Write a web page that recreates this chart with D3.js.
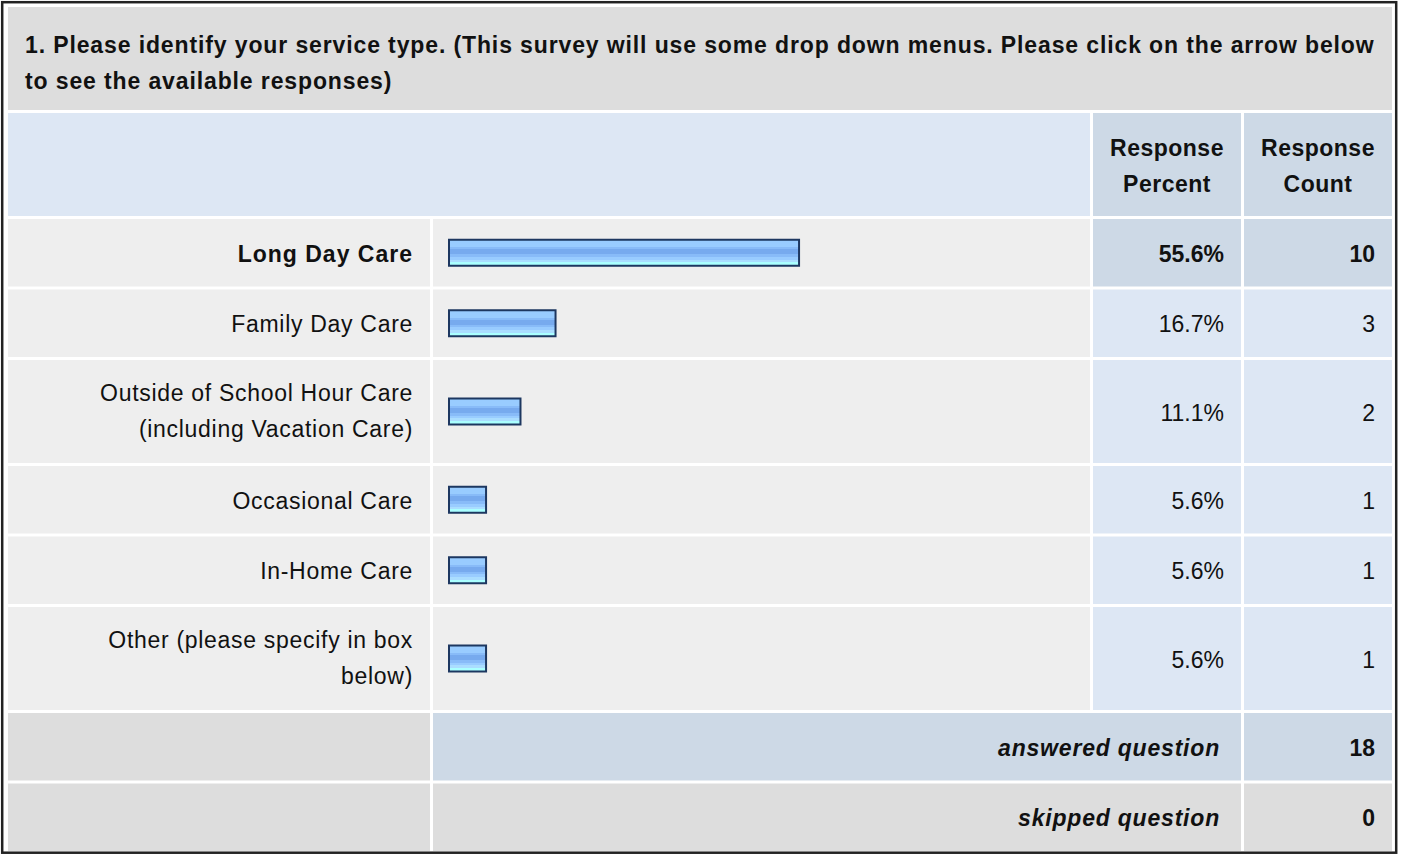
<!DOCTYPE html>
<html>
<head>
<meta charset="utf-8">
<script src="https://cdn.jsdelivr.net/npm/d3@7"></script>
<style>
body { margin: 0; background: #fff; }
svg { display: block; }
text { font-family: "Liberation Sans", Arial, sans-serif; fill: #111; }
</style>
</head>
<body>
<div id="chart"></div>
<script>
// survey data
var questionLines = ["1. Please identify your service type. (This survey will use some drop down menus. Please click on the arrow below",
                     "to see the available responses)"];
var headerPercent = ["Response", "Percent"];
var headerCount = ["Response", "Count"];
var answerLabels = [["Long Day Care"], ["Family Day Care"],
                    ["Outside of School Hour Care", "(including Vacation Care)"],
                    ["Occasional Care"], ["In-Home Care"],
                    ["Other (please specify in box", "below)"]];
var answerPercents = [55.6, 16.7, 11.1, 5.6, 5.6, 5.6];
var answerCounts = [10, 3, 2, 1, 1, 1];
var answeredCount = 18;
var skippedCount = 0;

var width = 1401;
var height = 855;
var gap = 3;
var lineH = 36;
var fontSize = 23;

// column edges
var colLabel = [8, 430], colBar = [433, 1090], colPct = [1093, 1241], colCnt = [1244, 1392];

var svg = d3.select("#chart")
      .append("svg")
      .attr("width", width)
      .attr("height", height);

var defs = svg.append("defs");
var grad = defs.append("linearGradient")
      .attr("id", "barGrad")
      .attr("x1", 0).attr("y1", 0).attr("x2", 0).attr("y2", 1);
[[0, "#99ccff"], [0.28, "#99ccff"], [0.28, "#88bbf8"], [0.36, "#88bbf8"], [0.36, "#77aaee"],
 [0.55, "#77aaee"], [0.55, "#88bbf8"], [0.66, "#88bbf8"], [0.66, "#99ccff"], [0.76, "#99ccff"],
 [0.76, "#aaddff"], [0.86, "#aaddff"], [0.86, "#aaffff"], [1, "#aaffff"]].forEach(function(s) {
  grad.append("stop").attr("offset", s[0]).attr("stop-color", s[1]);
});

// rows, height depends on number of text lines
var rows = [];
rows.push({kind: "title", lines: 2});
rows.push({kind: "header", lines: 2});
answerLabels.forEach(function(l, i) {
  rows.push({kind: "answer", lines: l.length, i: i});
});
rows.push({kind: "answered", lines: 1});
rows.push({kind: "skipped", lines: 1});

var y0 = 7;
rows.forEach(function(r) {
  r.h = 32 + 35.5 * r.lines;
  r.y = y0;
  y0 += r.h + gap;
});

var x = d3.scaleLinear().domain([0, 100]).range([0, 626]);

function cell(x0, x1, r, fill) {
  svg.append("rect")
    .attr("x", x0).attr("y", r.y)
    .attr("width", x1 - x0).attr("height", r.h)
    .attr("fill", fill);
}

function label(lines, xPos, r, anchor, weight, style, ls, shift) {
  var cy = r.y + r.h / 2 + (shift || 0);
  var t = svg.append("text")
    .attr("text-anchor", anchor)
    .style("font-size", fontSize + "px")
    .style("font-weight", weight || "normal")
    .style("font-style", style || "normal")
    .style("letter-spacing", (ls == null ? 1 : ls) + "px");
  var off = lines.length > 1 ? 7 : 9;
  lines.forEach(function(l, k) {
    t.append("tspan")
      .attr("x", xPos)
      .attr("y", cy - (lines.length - 1) * lineH / 2 + k * lineH + off)
      .text(l);
  });
}

rows.forEach(function(r) {
  if (r.kind == "title") {
    cell(colLabel[0], colCnt[1], r, "#dddddd");
    label(questionLines, 25, r, "start", "bold", null, 0.88, 5.5);
  } else if (r.kind == "header") {
    cell(colLabel[0], colBar[1], r, "#dde7f4");
    cell(colPct[0], colPct[1], r, "#cdd9e6");
    cell(colCnt[0], colCnt[1], r, "#cdd9e6");
    label(headerPercent, (colPct[0] + colPct[1]) / 2, r, "middle", "bold", null, 0.5, 2);
    label(headerCount, (colCnt[0] + colCnt[1]) / 2, r, "middle", "bold", null, 0.5, 2);
  } else if (r.kind == "answer") {
    var top = r.i == 0;
    cell(colLabel[0], colLabel[1], r, "#eeeeee");
    cell(colBar[0], colBar[1], r, "#eeeeee");
    cell(colPct[0], colPct[1], r, top ? "#cdd9e6" : "#dde7f4");
    cell(colCnt[0], colCnt[1], r, top ? "#cdd9e6" : "#dde7f4");
    label(answerLabels[r.i], colLabel[1] - 17, r, "end", top ? "bold" : "normal", null, top ? 1 : 0.7);
    label([answerPercents[r.i].toFixed(1) + "%"], colPct[1] - 17, r, "end", top ? "bold" : "normal", null, 0);
    label([String(answerCounts[r.i])], colCnt[1] - 17, r, "end", top ? "bold" : "normal", null, 0);
    svg.append("rect")
      .attr("x", 449)
      .attr("y", r.y + r.h / 2 - 13)
      .attr("width", x(answerPercents[r.i]) + 2)
      .attr("height", 26)
      .attr("fill", "url(#barGrad)")
      .attr("stroke", "#1d3760")
      .attr("stroke-width", 2);
  } else if (r.kind == "answered") {
    cell(colLabel[0], colLabel[1], r, "#dddddd");
    cell(colBar[0], colPct[1], r, "#cdd9e6");
    cell(colCnt[0], colCnt[1], r, "#cdd9e6");
    label(["answered question"], 1220, r, "end", "bold", "italic", 0.8);
    label([String(answeredCount)], colCnt[1] - 17, r, "end", "bold", null, 0);
  } else {
    cell(colLabel[0], colLabel[1], r, "#dddddd");
    cell(colBar[0], colPct[1], r, "#dddddd");
    cell(colCnt[0], colCnt[1], r, "#dddddd");
    label(["skipped question"], 1220, r, "end", "bold", "italic", 0.8);
    label([String(skippedCount)], colCnt[1] - 17, r, "end", "bold", null, 0);
  }
});

// outer frame
svg.append("rect")
  .attr("x", 2.2).attr("y", 2.2)
  .attr("width", 1394).attr("height", 850.5)
  .attr("fill", "none")
  .attr("stroke", "#222")
  .attr("stroke-width", 2.5);
</script>
</body>
</html>
